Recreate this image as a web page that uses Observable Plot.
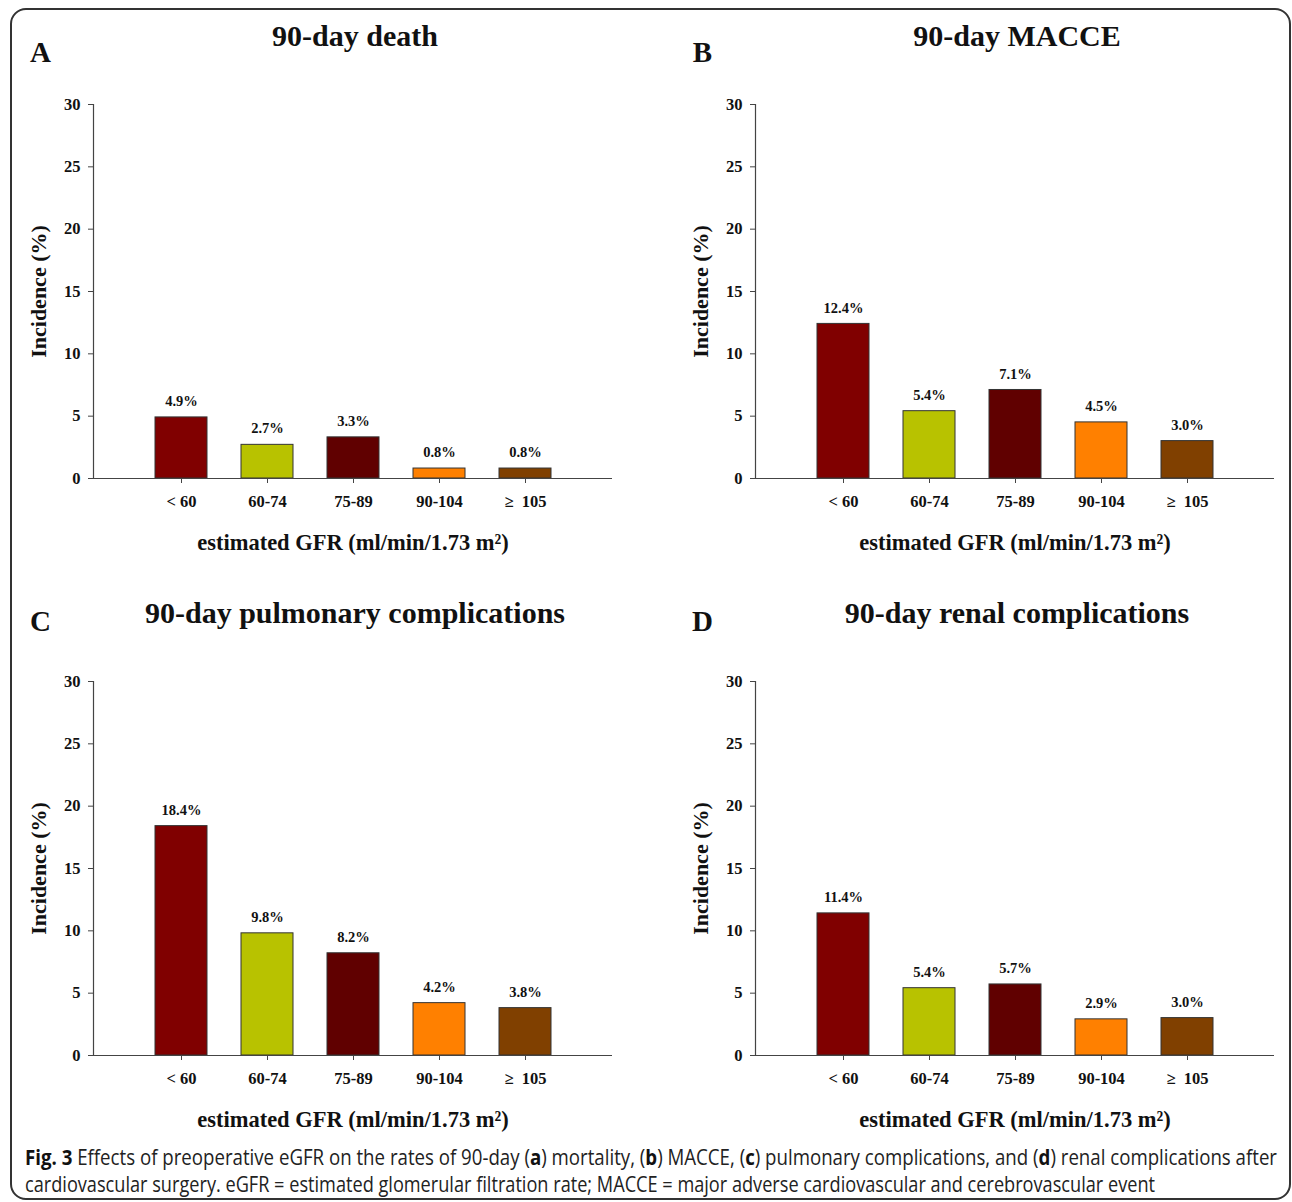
<!DOCTYPE html>
<html><head><meta charset="utf-8">
<script src="https://cdn.jsdelivr.net/npm/d3@7"></script>
<script src="https://cdn.jsdelivr.net/npm/@observablehq/plot@0.6"></script>
<style>
body{margin:0;background:#fff;}
#fig{position:relative;width:1292px;height:1202px;overflow:hidden;background:#fff;}
#border{position:absolute;left:10px;top:8px;height:1192px;width:1281px;border:2px solid #333;border-radius:16px;box-sizing:border-box;}
.panel{position:absolute;}
.cap{position:absolute;left:25px;white-space:nowrap;font-family:"Open Sans",sans-serif;font-size:21px;color:#222;transform-origin:0 50%;line-height:27px;}
.cap b{color:#111;}
</style></head><body>
<div id="fig">
<div id="border"></div>
<div class="panel" id="pA" style="left:0;top:0"></div>
<div class="panel" id="pB" style="left:662px;top:0"></div>
<div class="panel" id="pC" style="left:0;top:577px"></div>
<div class="panel" id="pD" style="left:662px;top:577px"></div>
<div class="cap" id="cap1" style="top:1144px"><b>Fig. 3</b> Effects of preoperative eGFR on the rates of 90-day (<b>a</b>) mortality, (<b>b</b>) MACCE, (<b>c</b>) pulmonary complications, and (<b>d</b>) renal complications after</div>
<div class="cap" id="cap2" style="top:1171px">cardiovascular surgery. eGFR = estimated glomerular filtration rate; MACCE = major adverse cardiovascular and cerebrovascular event</div>
</div>
<script>
const categories = ["< 60", "60-74", "75-89", "90-104", "≥  105"];
const barColors = ["#800000", "#b8c200", "#600000", "#ff8000", "#804000"];
const deathValues = [4.9, 2.7, 3.3, 0.8, 0.8];
const macceValues = [12.4, 5.4, 7.1, 4.5, 3.0];
const pulmonaryValues = [18.4, 9.8, 8.2, 4.2, 3.8];
const renalValues = [11.4, 5.4, 5.7, 2.9, 3.0];
const yTicks = [0, 5, 10, 15, 20, 25, 30];
const panelTitles = ["90-day death", "90-day MACCE", "90-day pulmonary complications", "90-day renal complications"];
const panelLetters = ["A", "B", "C", "D"];
const yLabel = "Incidence (%)";
const xLabel = "estimated GFR (ml/min/1.73 m²)";

function panel(values, title, letter, letterDy) {
  const data = categories.map((c, i) => ({cat: c, value: values[i]}));
  return Plot.plot({
    width: 630, height: 577,
    marginLeft: 93, marginRight: 18, marginTop: 104, marginBottom: 99,
    style: {fontFamily: "'Liberation Serif', 'Times New Roman', serif", fontSize: "16.5px", fontWeight: "bold", color: "#000", background: "transparent", overflow: "visible"},
    x: {type: "band", domain: categories, paddingInner: 0.4, paddingOuter: 0.7, label: null},
    y: {domain: [0, 30], label: null},
    color: {domain: categories, range: barColors},
    marks: [
      Plot.barY(data, {x: "cat", y: "value", fill: "cat", stroke: "#333", strokeWidth: 1}),
      Plot.text(data, {x: "cat", y: "value", text: d => d.value.toFixed(1) + "%", dy: -16, fontSize: 14.5, fontWeight: "bold", fill: "#111"}),
      Plot.frame({anchor: "left", stroke: "#444", strokeWidth: 1.2}),
      Plot.ruleY([0], {stroke: "#444", strokeWidth: 1.2}),
      Plot.axisY({ticks: yTicks, tickSize: 5, tickPadding: 8, stroke: "#444", label: null, fill: "#111"}),
      Plot.axisX({tickSize: 5, tickPadding: 12, stroke: "#444", label: null, fill: "#111"}),
      Plot.text([yLabel], {text: d => d, frameAnchor: "left", dx: -55, rotate: -90, fontSize: 22, fontWeight: "bold", textAnchor: "middle", lineAnchor: "middle", fill: "#111"}),
      Plot.text([xLabel], {text: d => d, frameAnchor: "bottom", dy: 64, fontSize: 22.5, fontWeight: "bold", textAnchor: "middle", lineAnchor: "middle", fill: "#111"}),
      Plot.text([title], {text: d => d, frameAnchor: "top", dy: -68, dx: 2, fontSize: 30, fontWeight: "bold", textAnchor: "middle", lineAnchor: "middle", fill: "#111", style: "letter-spacing:1px"}),
      Plot.text([letter], {text: d => d, frameAnchor: "top-left", dx: -53, dy: letterDy, fontSize: 29, fontWeight: "bold", textAnchor: "middle", lineAnchor: "middle", fill: "#111"})
    ]
  });
}

document.getElementById("pA").append(panel(deathValues, panelTitles[0], panelLetters[0], -52));
document.getElementById("pB").append(panel(macceValues, panelTitles[1], panelLetters[1], -52));
document.getElementById("pC").append(panel(pulmonaryValues, panelTitles[2], panelLetters[2], -60));
document.getElementById("pD").append(panel(renalValues, panelTitles[3], panelLetters[3], -60));

function fit(id, target) {
  const el = document.getElementById(id);
  const w = el.getBoundingClientRect().width;
  el.style.transform = `scaleX(${target / w})`;
}
fit("cap1", 1252);
fit("cap2", 1130);
</script>
</body></html>
